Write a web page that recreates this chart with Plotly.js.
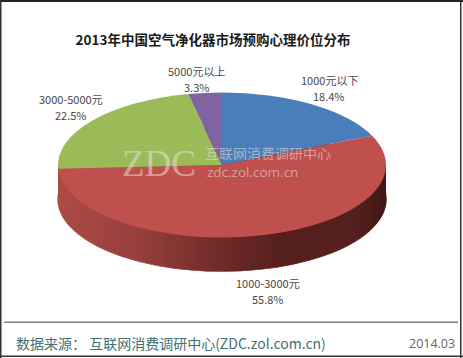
<!DOCTYPE html>
<html><head><meta charset="utf-8">
<script src="https://cdn.plot.ly/plotly-3.0.1.min.js"></script>
<style>html,body{margin:0;padding:0;background:#fff;overflow:hidden}#c{width:463px;height:358px}</style>
</head><body><div id="c"></div>
<script>
const categories = ['1000元以下','1000-3000元','3000-5000元','5000元以上'];
const shares = [18.4,55.8,22.5,3.3];
const sliceColors = ['#4a7ebb','#c0504d','#9bbb59','#8064a2'];
const chartTitle = '2013年中国空气净化器市场预购心理价位分布';
const sourceText = '数据来源： 互联网消费调研中心(ZDC.zol.com.cn)';
const dateText = '2014.03';

const W=463,H=358;
const CJK='"Noto Sans CJK SC", sans-serif';
const cx=222,rx=164,ry=72.5,cyTop=165,depth=34;
const dom={x:[(cx-rx)/W,(cx+rx)/W],y:[(H/2-rx)/H,(H/2+rx)/H]};
const pie=(colors)=>({type:'pie',values:shares,labels:categories,sort:false,direction:'clockwise',rotation:0,
  textinfo:'none',showlegend:false,hoverinfo:'skip',domain:dom,marker:{colors:colors,line:{width:0}}});
const note=(px,py,text,size,color,extra)=>Object.assign({xref:'paper',yref:'paper',x:px/W,y:1-py/H,text:text,showarrow:false,
  xanchor:'center',yanchor:'middle',font:{family:CJK,size:size,color:color}},extra||{});
const labelAt=[[329,80],[268,283],[71,99],[196,71]];
const annotations=[];
categories.forEach((c,i)=>{
  annotations.push(note(labelAt[i][0],labelAt[i][1],c,11,'#484848'));
  annotations.push(note(labelAt[i][0],labelAt[i][1]+16,shares[i].toFixed(1)+'%',11,'#484848'));
});
annotations.push(note(159,163,'ZDC',37,'rgba(235,225,215,0.55)',{font:{family:'"Liberation Serif", serif',size:37,color:'rgba(235,225,215,0.55)'}}));
annotations.push(note(268,153,'互联网消费调研中心',14,'rgba(225,220,210,0.6)',{height:14}));
annotations.push(note(252,172,'zdc.zol.com.cn',13.5,'rgba(225,220,210,0.6)',{height:14,font:{family:'"Open Sans", sans-serif',size:13.5,color:'rgba(225,220,210,0.6)'}}));
annotations.push(note(14,343,sourceText,14,'#3f7073',{xanchor:'left'}));
annotations.push(note(457,343,dateText,12.5,'#666666',{xanchor:'right',font:{family:'"Open Sans", sans-serif',size:12.5,color:'#666666'}}));
const rect=(x0,y0,x1,y1,fill,layer)=>({type:'rect',xref:'paper',yref:'paper',x0:x0/W,x1:x1/W,y0:1-y0/H,y1:1-y1/H,
  fillcolor:fill,line:{width:0},layer:layer||'above'});
const shapes=[
  rect(cx-rx,cyTop,cx+rx,cyTop+depth,'#7a2f2c','below'),
  rect(0,0,W,2,'#222222'),rect(0,0,1.5,H,'#333333'),rect(460,0,461.5,H,'#333333'),rect(0,355.5,W,357,'#333333'),
  rect(4,321.5,458,323,'#808080')
];
const layout={width:W,height:H,margin:{l:0,r:0,t:0,b:0},paper_bgcolor:'#fff',
  title:{text:'<b>'+chartTitle+'</b>',x:213/W,xanchor:'center',y:1-40/H,yanchor:'middle',automargin:false,
    font:{family:CJK,size:13.5,color:'#1a1a1a'}},
  annotations:annotations,shapes:shapes,showlegend:false};
Plotly.newPlot('c',[pie(sliceColors.map(()=> '#7a2f2c')),pie(sliceColors)],layout,{staticPlot:true,displayModeBar:false}).then(()=>{
  const gd=document.getElementById('c');
  const svg=gd.querySelector('svg.main-svg');
  const NS='http://www.w3.org/2000/svg';
  const defs=svg.querySelector('defs')||svg.insertBefore(document.createElementNS(NS,'defs'),svg.firstChild);
  const g=document.createElementNS(NS,'linearGradient');
  g.id='sideGrad';g.setAttribute('gradientUnits','userSpaceOnUse');
  g.setAttribute('x1',cx-rx);g.setAttribute('x2',cx+rx);g.setAttribute('y1',0);g.setAttribute('y2',0);
  [[0,'#ad4a46'],[0.25,'#953f3b'],[0.5,'#6f2b28'],[0.68,'#551f1d'],[0.9,'#54201e'],[1,'#3f1715']].forEach(s=>{
    const st=document.createElementNS(NS,'stop');st.setAttribute('offset',s[0]);st.setAttribute('stop-color',s[1]);g.appendChild(st);});
  defs.appendChild(g);
  const k=ry/rx;
  const traces=gd.querySelectorAll('.pielayer .trace');
  const place=(t,cy)=>t.setAttribute('transform','translate(0,'+cy+') scale(1,'+k+') translate(0,'+(-H/2)+')');
  place(traces[0],cyTop+depth);
  place(traces[1],cyTop);
  traces[0].querySelectorAll('path').forEach(p=>{p.style.fill='url(#sideGrad)';p.style.stroke='url(#sideGrad)';p.style.strokeWidth='1.5px';p.style.strokeOpacity='1';});
  gd.querySelectorAll('.shapelayer path').forEach(p=>{ if(p.style.fill.replace(/\s/g,'')==='rgb(122,47,44)') p.style.fill='url(#sideGrad)'; });
});
</script></body></html>
